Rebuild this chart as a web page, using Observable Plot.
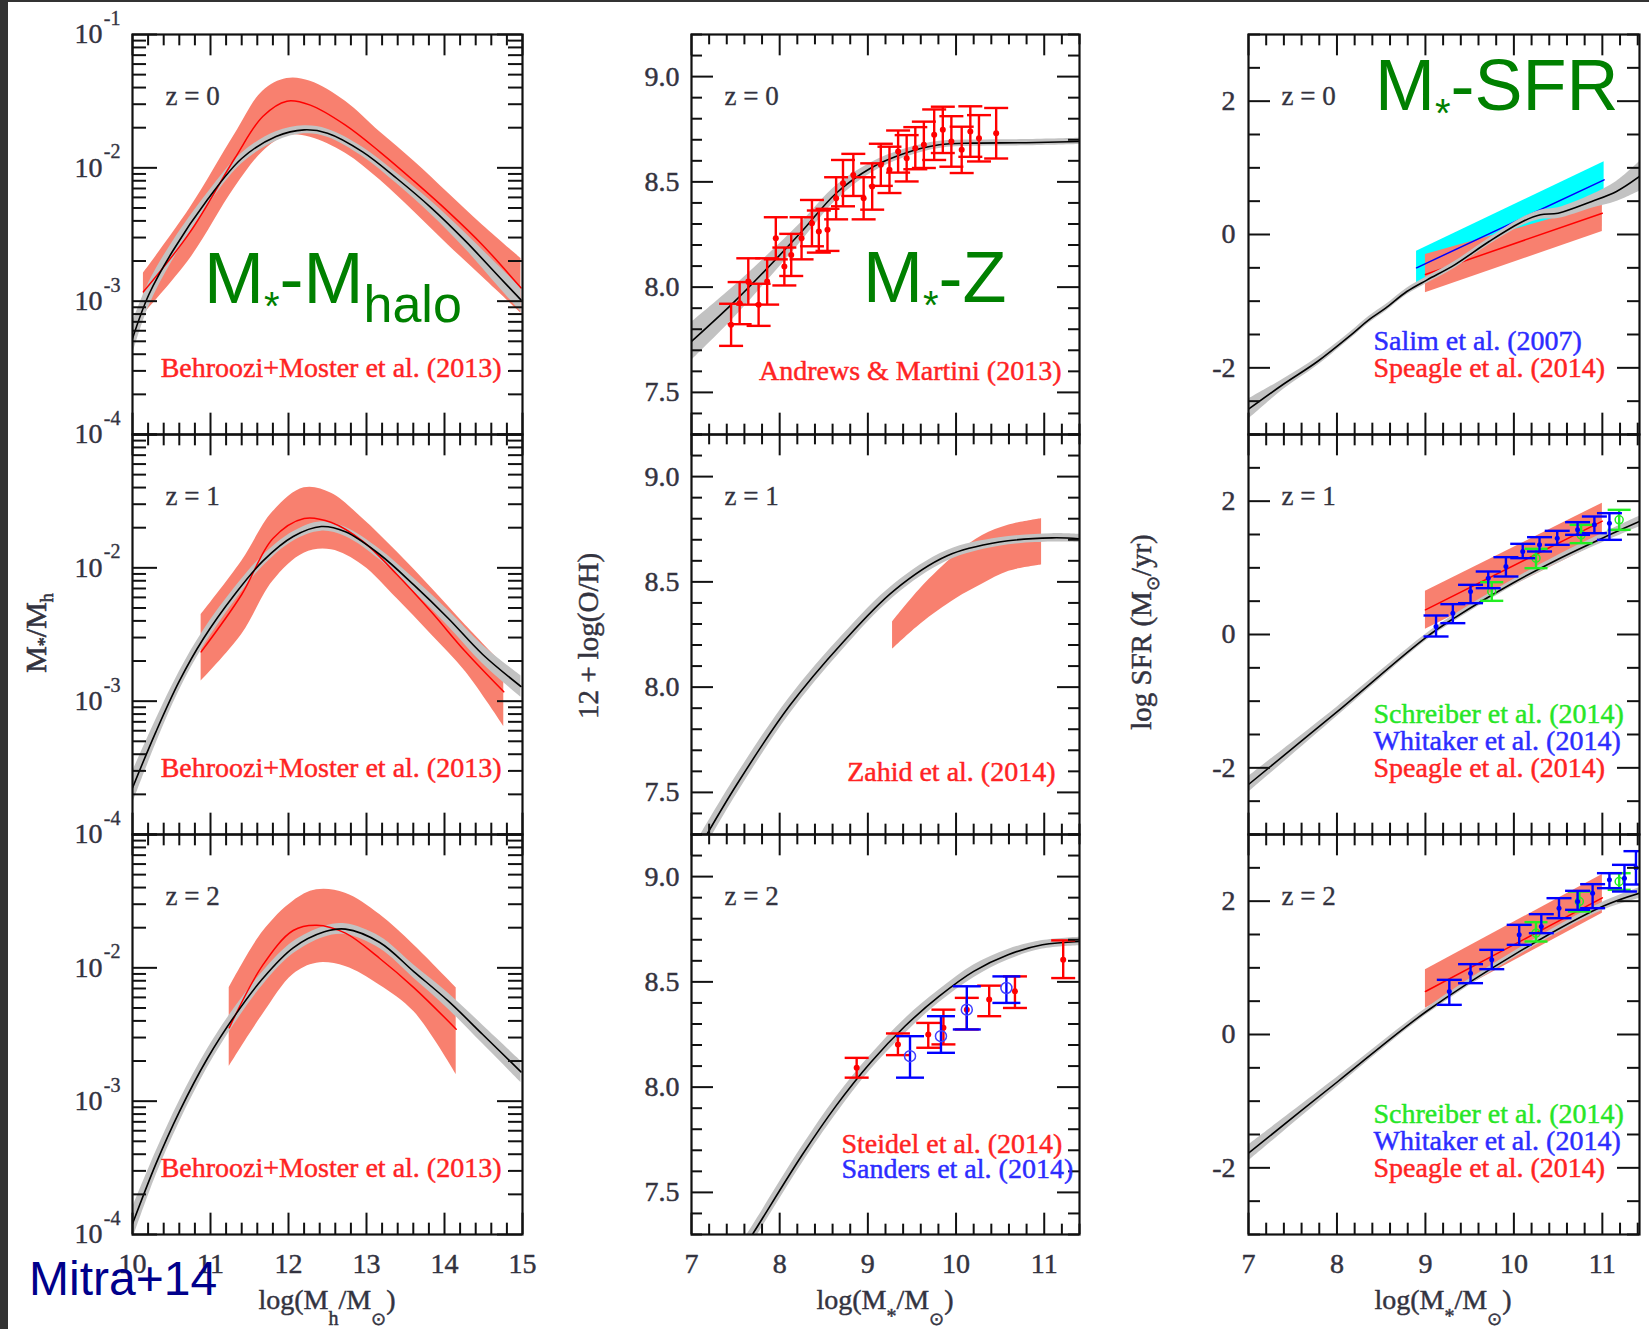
<!DOCTYPE html>
<html><head><meta charset="utf-8">
<script src="https://cdn.jsdelivr.net/npm/d3@7"></script>
<script src="https://cdn.jsdelivr.net/npm/@observablehq/plot@0.6"></script>
<style>
html,body{margin:0;padding:0;background:#fff;}
#wrap{position:relative;width:1649px;height:1329px;background:#333;overflow:hidden;}
#paper{position:absolute;left:8px;top:2px;right:0;bottom:0;background:#fff;}
#wrap svg{position:absolute;top:0;}
</style></head><body>
<div id="wrap"><div id="paper"></div></div>
<script>
// ================= DATA =================
const zLabels = ["z = 0", "z = 1", "z = 2"];

// ---- Column 1: stellar-to-halo mass ratio (log10 of M*/Mh) vs log Mh ----
const haloX_z0 = [10.0,10.21,10.52,10.96,11.40,11.84,12.20,12.50,12.95,13.39,13.83,14.27,14.72,14.98];
const haloModel_z0 = [-3.28,-2.95,-2.62,-2.24,-1.93,-1.765,-1.715,-1.74,-1.88,-2.08,-2.30,-2.55,-2.83,-2.99];
const haloBand_z0 = [0.12,0.09,0.07,0.05,0.04,0.035,0.03,0.03,0.035,0.04,0.05,0.06,0.08,0.09];
const haloX_z1 = [10.0,10.3,10.6,10.91,11.31,11.67,12.06,12.42,12.73,13.17,13.61,14.05,14.49,14.98];
const haloModel_z1 = [-3.65,-3.23,-2.85,-2.53,-2.20,-1.95,-1.765,-1.69,-1.73,-1.90,-2.13,-2.38,-2.65,-2.89];
const haloBand_z1 = [0.12,0.09,0.07,0.06,0.05,0.04,0.035,0.035,0.035,0.04,0.05,0.06,0.07,0.08];
const haloX_z2 = [10.0,10.3,10.6,10.96,11.31,11.67,12.06,12.46,12.73,13.17,13.61,14.05,14.49,14.98];
const haloModel_z2 = [-3.92,-3.47,-3.08,-2.68,-2.36,-2.08,-1.85,-1.73,-1.71,-1.81,-2.03,-2.25,-2.50,-2.78];
const haloBand_z2 = [0.12,0.09,0.08,0.07,0.06,0.05,0.045,0.04,0.04,0.045,0.05,0.06,0.07,0.08];

const behX_z0 = [10.14,10.74,11.31,11.67,11.98,12.28,12.73,13.17,13.61,14.05,14.49,14.98];
const behMid_z0 = [-2.93,-2.48,-1.93,-1.615,-1.50,-1.53,-1.68,-1.88,-2.10,-2.33,-2.58,-2.90];
const behLo_z0 = [-3.10,-2.68,-2.15,-1.88,-1.76,-1.77,-1.89,-2.09,-2.33,-2.58,-2.82,-3.09];
const behHi_z0 = [-2.79,-2.30,-1.75,-1.425,-1.33,-1.35,-1.50,-1.73,-1.95,-2.19,-2.43,-2.68];
const behX_z1 = [10.88,11.4,11.8,12.2,12.55,12.95,13.39,13.83,14.27,14.76];
const behMid_z1 = [-2.63,-2.20,-1.78,-1.63,-1.66,-1.80,-2.05,-2.33,-2.63,-2.93];
const behLo_z1 = [-2.85,-2.50,-2.10,-1.89,-1.865,-1.98,-2.23,-2.50,-2.78,-3.19];
const behHi_z1 = [-2.35,-1.95,-1.58,-1.40,-1.44,-1.63,-1.88,-2.15,-2.43,-2.73];
const behX_z2 = [11.24,11.67,12.06,12.36,12.73,13.17,13.61,14.15];
const behMid_z2 = [-2.45,-1.98,-1.72,-1.68,-1.74,-1.93,-2.15,-2.46];
const behLo_z2 = [-2.74,-2.35,-2.05,-1.965,-1.99,-2.13,-2.33,-2.80];
const behHi_z2 = [-2.15,-1.73,-1.50,-1.415,-1.44,-1.60,-1.83,-2.15];

// ---- Column 2: 12 + log(O/H) vs log M* ----
const mzX_z0 = [7.0,7.47,7.86,8.25,8.64,9.03,9.42,9.81,10.2,10.79,11.4];
const mzModel_z0 = [7.742,7.924,8.09,8.264,8.446,8.565,8.636,8.676,8.684,8.686,8.692];
const mzBand_z0 = [0.09,0.075,0.06,0.045,0.035,0.025,0.02,0.017,0.015,0.015,0.015];
const mzX_z1 = [7.05,7.51,8.11,8.71,9.30,9.90,10.49,11.09,11.4];
const mzModel_z1 = [7.21,7.535,7.91,8.21,8.46,8.624,8.689,8.709,8.705];
const mzBand_z1 = [0.05,0.045,0.04,0.035,0.03,0.025,0.02,0.02,0.02];
const mzX_z2 = [7.55,7.683,8.249,8.639,9.029,9.42,9.81,10.2,10.59,10.98,11.4];
const mzModel_z2 = [7.21,7.295,7.674,7.911,8.116,8.289,8.432,8.55,8.629,8.676,8.692];
const mzBand_z2 = [0.04,0.04,0.04,0.04,0.035,0.035,0.03,0.03,0.025,0.02,0.02];

const amX = [7.449,7.546,7.644,7.761,7.858,7.956,8.053,8.131,8.248,8.366,8.444,8.542,8.64,8.718,8.835,8.952,9.049,9.147,9.245,9.343,9.44,9.538,9.635,9.752,9.85,9.947,10.064,10.162,10.26,10.455];
const amY = [7.821,7.924,8.027,7.916,8.027,8.232,8.098,8.153,8.232,8.304,8.264,8.272,8.422,8.494,8.533,8.422,8.478,8.581,8.557,8.644,8.612,8.66,8.676,8.724,8.747,8.692,8.652,8.739,8.707,8.731];
const amErr = [0.10,0.10,0.11,0.10,0.11,0.10,0.09,0.10,0.10,0.11,0.10,0.10,0.10,0.11,0.10,0.10,0.11,0.10,0.11,0.10,0.11,0.10,0.11,0.12,0.11,0.12,0.11,0.12,0.11,0.12];

const zahX = [9.28,9.6,10.0,10.3,10.6,10.97];
const zahLo = [8.18,8.30,8.42,8.49,8.55,8.58];
const zahHi = [8.31,8.47,8.63,8.72,8.77,8.80];

const stX = [8.873,9.341,9.685,9.857,10.122,10.376,10.668,11.215];
const stY = [8.092,8.203,8.25,8.282,8.368,8.416,8.455,8.605];
const stLo = [8.045,8.152,8.187,8.203,8.274,8.337,8.376,8.518];
const stHi = [8.139,8.255,8.305,8.368,8.424,8.482,8.526,8.697];
const sdX = [9.478,9.829,10.122,10.571];
const sdY = [8.147,8.242,8.368,8.471];
const sdLo = [8.045,8.163,8.274,8.40];
const sdHi = [8.242,8.337,8.479,8.526];

// ---- Column 3: log SFR vs log M* ----
const sfrX_z0 = [7.0,7.39,7.78,8.16,8.36,8.55,8.79,9.02,9.33,9.72,10.1,10.3,10.5,10.88,11.16,11.42];
const sfrModel_z0 = [-2.62,-2.25,-1.905,-1.505,-1.28,-1.105,-0.855,-0.68,-0.455,-0.105,0.195,0.295,0.32,0.495,0.645,0.87];
const sfrBand_z0 = [0.15,0.08,0.06,0.05,0.05,0.05,0.05,0.05,0.05,0.05,0.06,0.07,0.08,0.10,0.15,0.22];
const sfrX_z1 = [7.0,8.0,9.0,9.33,10.0,10.5,11.0,11.42];
const sfrModel_z1 = [-2.25,-1.16,-0.05,0.25,0.78,1.13,1.445,1.695];
const sfrBand_z1 = [0.12,0.07,0.05,0.05,0.05,0.06,0.07,0.08];
const sfrX_z2 = [7.0,8.01,9.01,10.0,11.0,11.42];
const sfrModel_z2 = [-1.78,-0.705,0.345,1.195,1.92,2.12];
const sfrBand_z2 = [0.12,0.07,0.05,0.05,0.06,0.08];

const salX = [8.9,11.02];
const salMid = [-0.5,0.82];
const salLo = [-0.74,0.56];
const salHi = [-0.25,1.09];

const spX = [9.0,11.0];
const spMid_z0 = [-0.6,0.32];
const spLo_z0 = [-0.875,0.045];
const spHi_z0 = [-0.30,0.45];
const spMid_z1 = [0.37,1.70];
const spLo_z1 = [0.08,1.40];
const spHi_z1 = [0.65,1.97];
const spMid_z2 = [0.645,2.05];
const spLo_z2 = [0.395,1.82];
const spHi_z2 = [0.97,2.40];

const wkX_z1 = [9.12,9.31,9.51,9.71,9.91,10.1,10.29,10.49,10.72,10.91,11.08];
const wkY_z1 = [0.12,0.32,0.645,0.845,1.02,1.245,1.345,1.445,1.57,1.645,1.67];
const wkLo_z1 = [-0.03,0.17,0.47,0.695,0.87,1.145,1.245,1.345,1.495,1.52,1.42];
const wkHi_z1 = [0.285,0.455,0.745,0.945,1.16,1.36,1.46,1.555,1.685,1.77,1.82];
const scX_z1 = [9.75,10.25,10.76,11.19];
const scY_z1 = [0.645,1.145,1.495,1.72];
const scLo_z1 = [0.505,0.995,1.37,1.57];
const scHi_z1 = [0.785,1.285,1.645,1.87];

const wkX_z2 = [9.27,9.51,9.75,10.06,10.31,10.51,10.72,10.89,11.08,11.25,11.38];
const wkY_z2 = [0.645,0.92,1.12,1.495,1.62,1.895,1.995,2.12,2.32,2.345,2.5];
const wkLo_z2 = [0.445,0.77,0.98,1.345,1.52,1.745,1.87,1.895,2.195,2.145,2.25];
const wkHi_z2 = [0.82,1.055,1.27,1.645,1.805,2.045,2.155,2.255,2.42,2.545,2.75];
const scX_z2 = [10.25,10.74,11.19];
const scY_z2 = [1.52,1.995,2.295];
const scLo_z2 = [1.395,1.845,2.17];
const scHi_z2 = [1.685,2.145,2.42];

// tick labels
const c1XTicks = [10,11,12,13,14,15];
const c1YExp = [-4,-3,-2];
const c2XTicks = [7,8,9,10,11];
const c2YTicks = [7.5,8.0,8.5,9.0];
const c3YTicks = [-2,0,2];

// reference labels
const refs1 = ["Behroozi+Moster et al. (2013)","Behroozi+Moster et al. (2013)","Behroozi+Moster et al. (2013)"];
const refs2 = [{row:0,label:"Andrews & Martini (2013)",src:"red"},{row:1,label:"Zahid et al. (2014)",src:"red"},
  {row:2,label:"Steidel et al. (2014)",src:"red"},{row:2,label:"Sanders et al. (2014)",src:"blue"}];
const refs3 = [{row:0,slot:1,label:"Salim et al. (2007)",src:"blue"},{row:0,slot:0,label:"Speagle et al. (2014)",src:"red"},
  {row:1,slot:2,label:"Schreiber et al. (2014)",src:"green"},{row:1,slot:1,label:"Whitaker et al. (2014)",src:"blue"},{row:1,slot:0,label:"Speagle et al. (2014)",src:"red"},
  {row:2,slot:2,label:"Schreiber et al. (2014)",src:"green"},{row:2,slot:1,label:"Whitaker et al. (2014)",src:"blue"},{row:2,slot:0,label:"Speagle et al. (2014)",src:"red"}];

// ================= HELPERS =================
function zip(row, obj) {
  const keys = Object.keys(obj);
  return obj[keys[0]].map((_, i) => { const r = {row}; keys.forEach(k => r[k] = obj[k][i]); return r; });
}
const TXT = {red:"#ff2323", blue:"#2c2cff", green:"#26e626"};
const LAB = "#33333f";
const SALMON = "#f8806f", GRAY = "#c2c2c2";
const H = 1329, MT = 33, MB = H - 1235;
const FH = (H - MT - MB) / 3;
const curve = "catmull-rom";
const capSymbol = {draw(ctx, size) { const r = Math.sqrt(size / Math.PI); ctx.moveTo(-r, 0); ctx.lineTo(r, 0); }};
const heavy = (color, w = 0.45) => ({stroke: color, strokeWidth: w});

function frameTicks(xMajor, xMinor, yMajor, yMinor, innerW, L) {
  const s = {stroke: "#111", strokeWidth: 2};
  return [
    Plot.tickX(xMajor, {x: d => d, insetTop: FH - L.xMaj, ...s}),
    Plot.tickX(xMajor, {x: d => d, insetBottom: FH - L.xMaj, ...s}),
    Plot.tickX(xMinor, {x: d => d, insetTop: FH - L.xMin, ...s}),
    Plot.tickX(xMinor, {x: d => d, insetBottom: FH - L.xMin, ...s}),
    Plot.tickY(yMajor, {y: d => d, insetRight: innerW - L.yMaj, ...s}),
    Plot.tickY(yMajor, {y: d => d, insetLeft: innerW - L.yMaj, ...s}),
    Plot.tickY(yMinor, {y: d => d, insetRight: innerW - L.yMin, ...s}),
    Plot.tickY(yMinor, {y: d => d, insetLeft: innerW - L.yMin, ...s}),
    Plot.frame({stroke: "#111", strokeWidth: 2.2})
  ];
}
function errorbars(data, color, capR, sw = 2.4) {
  return [
    Plot.ruleX(data, {x: "x", y1: "lo", y2: "hi", fy: "row", stroke: color, strokeWidth: sw, clip: true}),
    Plot.dot(data, {x: "x", y: "lo", fy: "row", symbol: capSymbol, r: capR, stroke: color, strokeWidth: sw, clip: true}),
    Plot.dot(data, {x: "x", y: "hi", fy: "row", symbol: capSymbol, r: capR, stroke: color, strokeWidth: sw, clip: true})
  ];
}
function zMarks() {
  return Plot.text(zLabels.map((label, row) => ({row, label})), {fy: "row", frameAnchor: "top-left", dx: 33, dy: 62,
    text: "label", textAnchor: "start", lineAnchor: "middle", fontSize: 27, fill: LAB, ...heavy(LAB, 0.35)});
}
const wrap = document.getElementById("wrap");
function place(svg, left) { svg.style.left = left + "px"; wrap.appendChild(svg); }
const baseStyle = {background: "transparent", fontFamily: "'Liberation Serif', 'Times New Roman', serif", overflow: "visible"};

// ================= COLUMN 1 =================
{
  const model = [...zip(0, {x: haloX_z0, v: haloModel_z0, e: haloBand_z0}), ...zip(1, {x: haloX_z1, v: haloModel_z1, e: haloBand_z1}), ...zip(2, {x: haloX_z2, v: haloModel_z2, e: haloBand_z2})];
  const beh = [...zip(0, {x: behX_z0, v: behMid_z0, lo: behLo_z0, hi: behHi_z0}), ...zip(1, {x: behX_z1, v: behMid_z1, lo: behLo_z1, hi: behHi_z1}), ...zip(2, {x: behX_z2, v: behMid_z2, lo: behLo_z2, hi: behHi_z2})];
  const yLab = [...[0, 1, 2].flatMap(row => c1YExp.map(e => ({row, e}))), {row: 0, e: -1}];
  const majorY = [1e-4, 1e-3, 1e-2, 1e-1];
  const minorY = d3.range(-4, -1).flatMap(k => d3.range(2, 10).map(m => m * 10 ** k));
  const majorX = c1XTicks;
  const minorX = d3.range(100, 151, 2).filter(v => v % 10 !== 0).map(v => v / 10);
  const innerW = 390;
  const p = Plot.plot({
    width: 545, height: H, marginLeft: 132, marginRight: 23, marginTop: MT, marginBottom: MB,
    x: {domain: [10, 15], axis: null},
    y: {type: "log", domain: [1e-4, 1e-1], axis: null},
    fy: {domain: [0, 1, 2], padding: 0, axis: null},
    style: baseStyle,
    marks: [
      Plot.areaY(beh, {x: "x", y1: d => 10 ** d.lo, y2: d => 10 ** d.hi, fy: "row", fill: SALMON, curve, clip: true}),
      Plot.areaY(model, {x: "x", y1: d => 10 ** (d.v - d.e), y2: d => 10 ** (d.v + d.e), fy: "row", fill: GRAY, curve, clip: true}),
      Plot.lineY(beh, {x: "x", y: d => 10 ** d.v, fy: "row", stroke: "#ff0000", strokeWidth: 1.5, curve, clip: true}),
      Plot.lineY(model, {x: "x", y: d => 10 ** d.v, fy: "row", stroke: "#000", strokeWidth: 1.6, curve, clip: true}),
      ...frameTicks(majorX, minorX, majorY, minorY, innerW, {xMaj: 22, xMin: 12, yMaj: 25, yMin: 14}),
      Plot.text(yLab, {y: d => 10 ** d.e, fy: "row", frameAnchor: "left", dx: -30, textAnchor: "end", lineAnchor: "middle", text: () => "10", fontSize: 28, fill: LAB, ...heavy(LAB)}),
      Plot.text(yLab, {y: d => 10 ** d.e, fy: "row", frameAnchor: "left", dx: -12, dy: -16, textAnchor: "end", lineAnchor: "middle", text: d => String(d.e), fontSize: 20, fill: LAB, ...heavy(LAB, 0.35)}),
      Plot.text(c1XTicks.map(v => ({row: 2, v})), {x: "v", fy: "row", frameAnchor: "bottom", dy: 30, text: d => String(d.v), lineAnchor: "middle", fontSize: 28, fill: LAB, ...heavy(LAB)}),
      zMarks(),
      Plot.text(refs1.map((label, row) => ({row, label})), {fy: "row", frameAnchor: "top-right", dx: -21, dy: 334, text: "label", textAnchor: "end", lineAnchor: "middle", fontSize: 28, fill: TXT.red, ...heavy(TXT.red)})
    ]
  });
  place(p, 0);
}

// ================= COLUMN 2 =================
{
  const model = [...zip(0, {x: mzX_z0, v: mzModel_z0, e: mzBand_z0}), ...zip(1, {x: mzX_z1, v: mzModel_z1, e: mzBand_z1}), ...zip(2, {x: mzX_z2, v: mzModel_z2, e: mzBand_z2})];
  const am = zip(0, {x: amX, y: amY, e: amErr}).map(d => ({...d, lo: d.y - d.e, hi: d.y + d.e}));
  const zah = zip(1, {x: zahX, lo: zahLo, hi: zahHi});
  const st = zip(2, {x: stX, y: stY, lo: stLo, hi: stHi});
  const sd = zip(2, {x: sdX, y: sdY, lo: sdLo, hi: sdHi});
  const majorY = c2YTicks;
  const minorY = d3.range(73, 93).filter(v => v % 5 !== 0).map(v => v / 10);
  const majorX = c2XTicks;
  const minorX = d3.range(70, 115, 2).filter(v => v % 10 !== 0).map(v => v / 10);
  const innerW = 388;
  const p = Plot.plot({
    width: 560, height: H, marginLeft: 146, marginRight: 26, marginTop: MT, marginBottom: MB,
    x: {domain: [7, 11.4], axis: null},
    y: {domain: [7.3, 9.2], axis: null},
    fy: {domain: [0, 1, 2], padding: 0, axis: null},
    style: baseStyle,
    marks: [
      Plot.areaY(zah, {x: "x", y1: "lo", y2: "hi", fy: "row", fill: SALMON, curve, clip: true}),
      Plot.areaY(model, {x: "x", y1: d => d.v - d.e, y2: d => d.v + d.e, fy: "row", fill: GRAY, curve, clip: true}),
      Plot.lineY(model, {x: "x", y: "v", fy: "row", stroke: "#000", strokeWidth: 1.6, curve, clip: true}),
      ...errorbars(am, "#ff0000", 12),
      Plot.dot(am, {x: "x", y: "y", fy: "row", r: 3, fill: "#ff0000"}),
      ...errorbars(st, "#ff0000", 12),
      Plot.dot(st, {x: "x", y: "y", fy: "row", r: 3, fill: "#ff0000"}),
      ...errorbars(sd, "#0000ff", 14),
      Plot.dot(sd, {x: "x", y: "y", fy: "row", r: 5.5, stroke: "#4040ff", strokeWidth: 1.5, fill: "none"}),
      ...frameTicks(majorX, minorX, majorY, minorY, innerW, {xMaj: 22, xMin: 11, yMaj: 22, yMin: 11}),
      Plot.text([0, 1, 2].flatMap(row => c2YTicks.map(v => ({row, v}))), {y: "v", fy: "row", frameAnchor: "left", dx: -12, textAnchor: "end", lineAnchor: "middle", text: d => d.v.toFixed(1), fontSize: 28, fill: LAB, ...heavy(LAB)}),
      Plot.text(c2XTicks.map(v => ({row: 2, v})), {x: "v", fy: "row", frameAnchor: "bottom", dy: 30, text: d => String(d.v), lineAnchor: "middle", fontSize: 28, fill: LAB, ...heavy(LAB)}),
      zMarks(),
      Plot.text([refs2[0]], {fy: "row", frameAnchor: "top-right", dx: -18, dy: 337, text: "label", textAnchor: "end", lineAnchor: "middle", fontSize: 28, fill: TXT[refs2[0].src], ...heavy(TXT[refs2[0].src])}),
      Plot.text([refs2[1]], {fy: "row", frameAnchor: "top-right", dx: -24, dy: 338, text: "label", textAnchor: "end", lineAnchor: "middle", fontSize: 28, fill: TXT[refs2[1].src], ...heavy(TXT[refs2[1].src])}),
      Plot.text([refs2[2]], {fy: "row", frameAnchor: "top-left", dx: 150, dy: 310, text: "label", textAnchor: "start", lineAnchor: "middle", fontSize: 28, fill: TXT[refs2[2].src], ...heavy(TXT[refs2[2].src])}),
      Plot.text([refs2[3]], {fy: "row", frameAnchor: "top-left", dx: 150, dy: 335, text: "label", textAnchor: "start", lineAnchor: "middle", fontSize: 28, fill: TXT[refs2[3].src], ...heavy(TXT[refs2[3].src])})
    ]
  });
  place(p, 545);
}

// ================= COLUMN 3 =================
{
  const model = [...zip(0, {x: sfrX_z0, v: sfrModel_z0, e: sfrBand_z0}), ...zip(1, {x: sfrX_z1, v: sfrModel_z1, e: sfrBand_z1}), ...zip(2, {x: sfrX_z2, v: sfrModel_z2, e: sfrBand_z2})];
  const sal = zip(0, {x: salX, v: salMid, lo: salLo, hi: salHi});
  const sp = [...zip(0, {x: spX, v: spMid_z0, lo: spLo_z0, hi: spHi_z0}), ...zip(1, {x: spX, v: spMid_z1, lo: spLo_z1, hi: spHi_z1}), ...zip(2, {x: spX, v: spMid_z2, lo: spLo_z2, hi: spHi_z2})];
  const wk = [...zip(1, {x: wkX_z1, y: wkY_z1, lo: wkLo_z1, hi: wkHi_z1}), ...zip(2, {x: wkX_z2, y: wkY_z2, lo: wkLo_z2, hi: wkHi_z2})];
  const sc = [...zip(1, {x: scX_z1, y: scY_z1, lo: scLo_z1, hi: scHi_z1}), ...zip(2, {x: scX_z2, y: scY_z2, lo: scLo_z2, hi: scHi_z2})];
  const majorY = c3YTicks;
  const minorY = [-3, -2.5, -1.5, -1, -0.5, 0.5, 1, 1.5, 2.5, 3];
  const majorX = c2XTicks;
  const minorX = d3.range(70, 115, 2).filter(v => v % 10 !== 0).map(v => v / 10);
  const innerW = 391;
  const slotDy = [334, 307, 280];
  const p = Plot.plot({
    width: 544, height: H, marginLeft: 143, marginRight: 10, marginTop: MT, marginBottom: MB,
    x: {domain: [7, 11.42], axis: null},
    y: {domain: [-3, 3], axis: null},
    fy: {domain: [0, 1, 2], padding: 0, axis: null},
    style: baseStyle,
    marks: [
      Plot.areaY(sal, {x: "x", y1: "lo", y2: "hi", fy: "row", fill: "#00ffff", clip: true}),
      Plot.areaY(sp, {x: "x", y1: "lo", y2: "hi", fy: "row", fill: SALMON, clip: true}),
      Plot.lineY(sal, {x: "x", y: "v", fy: "row", stroke: "#0000ff", strokeWidth: 1.5}),
      Plot.lineY(sp, {x: "x", y: "v", fy: "row", stroke: "#ff0000", strokeWidth: 1.5}),
      Plot.areaY(model, {x: "x", y1: d => d.v - d.e, y2: d => d.v + d.e, fy: "row", fill: GRAY, curve, clip: true}),
      Plot.lineY(model, {x: "x", y: "v", fy: "row", stroke: "#000", strokeWidth: 1.6, curve, clip: true}),
      ...errorbars(sc, "#22ee22", 11.5),
      Plot.dot(sc, {x: "x", y: "y", fy: "row", r: 4, stroke: "#22ee22", strokeWidth: 1.5, fill: "none", clip: true}),
      ...errorbars(wk, "#0000ff", 12.5),
      Plot.dot(wk, {x: "x", y: "y", fy: "row", r: 2.5, fill: "#0000ff", clip: true}),
      ...frameTicks(majorX, minorX, majorY, minorY, innerW, {xMaj: 22, xMin: 12, yMaj: 22, yMin: 12}),
      Plot.text([0, 1, 2].flatMap(row => c3YTicks.map(v => ({row, v}))), {y: "v", fy: "row", frameAnchor: "left", dx: -13, textAnchor: "end", lineAnchor: "middle", text: d => String(d.v), fontSize: 28, fill: LAB, ...heavy(LAB)}),
      Plot.text(c2XTicks.map(v => ({row: 2, v})), {x: "v", fy: "row", frameAnchor: "bottom", dy: 30, text: d => String(d.v), lineAnchor: "middle", fontSize: 28, fill: LAB, ...heavy(LAB)}),
      zMarks(),
      ...refs3.map(r => Plot.text([r], {fy: "row", frameAnchor: "top-left", dx: 125, dy: slotDy[r.slot], text: "label", textAnchor: "start", lineAnchor: "middle", fontSize: 28, fill: TXT[r.src], ...heavy(TXT[r.src])}))
    ]
  });
  place(p, 1105);
}

// ================= OVERLAY TEXT (titles, big labels) =================
const ov = d3.select(wrap).append("svg").attr("width", 1649).attr("height", H).style("left", "0px").style("pointer-events", "none");
function rich(parts, {x, y, size, anchor = "middle", fill = LAB, family = "'Liberation Serif', serif", rotate = 0, sw = 0}) {
  const t = ov.append("text").attr("transform", `translate(${x},${y}) rotate(${rotate})`)
    .attr("text-anchor", anchor).attr("font-family", family).attr("font-size", size).attr("fill", fill);
  if (sw) t.attr("stroke", fill).attr("stroke-width", sw);
  let cur = 0;
  for (const [s, sz, shift] of parts) {
    const ts = t.append("tspan").text(s).attr("dy", shift - cur);
    if (sz) ts.attr("font-size", sz);
    cur = shift;
  }
}
rich([["log(M", 0, 0], ["h", 20, 16], ["/M", 0, 0], ["\u2299", 18, 16], [")", 0, 0]], {x: 327, y: 1309, size: 28, sw: 0.45});
rich([["log(M", 0, 0], ["*", 20, 14], ["/M", 0, 0], ["\u2299", 18, 16], [")", 0, 0]], {x: 885, y: 1309, size: 28, sw: 0.45});
rich([["log(M", 0, 0], ["*", 20, 14], ["/M", 0, 0], ["\u2299", 18, 16], [")", 0, 0]], {x: 1443, y: 1309, size: 28, sw: 0.45});
rich([["M", 0, 0], ["*", 18, 5], ["/M", 0, 0], ["h", 18, 7]], {x: 46, y: 633, size: 30, rotate: -90, sw: 0.6});
rich([["12 + log(O/H)", 0, 0]], {x: 598, y: 636, size: 29, rotate: -90, sw: 0.45});
rich([["log SFR (M", 0, 0], ["\u2299", 18, 8], ["/yr)", 0, 0]], {x: 1151, y: 632, size: 29, rotate: -90, sw: 0.45});

const sans = "'Liberation Sans', Arial, sans-serif", GREEN = "#008000";
rich([["M", 0, 0], ["*", 40, 17], ["-M", 0, 0], ["halo", 52, 19]], {x: 204, y: 303, size: 72, anchor: "start", fill: GREEN, family: sans});
rich([["M", 0, 0], ["*", 40, 17], ["-Z", 0, 0]], {x: 863, y: 302, size: 72, anchor: "start", fill: GREEN, family: sans});
rich([["M", 0, 0], ["*", 40, 17], ["-SFR", 0, 0]], {x: 1375, y: 110, size: 72, anchor: "start", fill: GREEN, family: sans});
rich([["Mitra+14", 0, 0]], {x: 29, y: 1295, size: 48, anchor: "start", fill: "#00008b", family: sans});
</script>
</body></html>
